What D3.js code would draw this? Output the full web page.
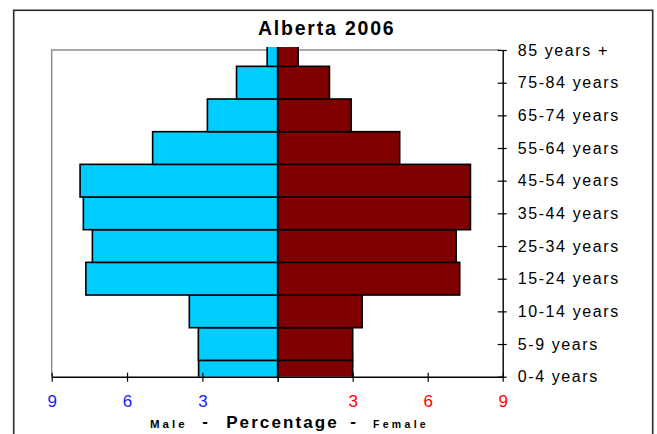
<!DOCTYPE html>
<html>
<head>
<meta charset="utf-8">
<script src="https://cdn.jsdelivr.net/npm/d3@7"></script>
<style>
  html, body { margin: 0; padding: 0; background: #fff; }
  svg { display: block; font-family: "Liberation Sans", Arial, sans-serif; }
</style>
</head>
<body>
<svg id="chart" width="657" height="434"></svg>
<script>
// ---- data ----
const categories = ["0-4 years", "5-9 years", "10-14 years", "15-24 years", "25-34 years",
                    "35-44 years", "45-54 years", "55-64 years", "65-74 years", "75-84 years", "85 years +"];
const maleValues   = [3.15, 3.16, 3.52, 7.64, 7.38, 7.74, 7.87, 4.98, 2.80, 1.64, 0.42];
const femaleValues = [3.00, 3.00, 3.38, 7.28, 7.14, 7.71, 7.71, 4.88, 2.94, 2.07, 0.82];
const xTickValues = [0, 3, 6, 9];
const title = "Alberta 2006";

// ---- layout ----
const W = 657, H = 434;
const plot = { left: 51.7, right: 502.7, top: 50, bottom: 376.7 };
const center = 277.7;

const svg = d3.select("#chart");

// outer frame
svg.append("rect")
  .attr("x", 13.7).attr("y", 10.3)
  .attr("width", 652.7 - 13.7).attr("height", 460)
  .attr("fill", "none").attr("stroke", "#2b2b2b").attr("stroke-width", 1.6);

// scales
const xMale = d3.scaleLinear().domain([0, 9]).range([center, plot.left]);
const xFemale = d3.scaleLinear().domain([0, 9]).range([center, plot.right]);
const y = d3.scalePoint().domain(categories).range([plot.bottom, plot.top]);
const step = y.step();

// plot area frame (gray top & left)
svg.append("path")
  .attr("d", `M${plot.left},${plot.bottom}V${plot.top}H${plot.right - 2}`)
  .attr("fill", "none").attr("stroke", "#8c8c8c").attr("stroke-width", 1.4);

// clip
svg.append("defs").append("clipPath").attr("id", "clip")
  .append("rect")
  .attr("x", plot.left).attr("y", plot.top - 3)
  .attr("width", plot.right - plot.left).attr("height", plot.bottom - plot.top + 3);

const bars = svg.append("g").attr("clip-path", "url(#clip)");

bars.selectAll("rect.male")
  .data(categories.map((c, i) => ({ c, v: maleValues[i] })))
  .join("rect").attr("class", "male")
  .attr("x", d => xMale(d.v))
  .attr("y", d => y(d.c) - step / 2)
  .attr("width", d => xMale(0) - xMale(d.v))
  .attr("height", step)
  .attr("fill", "#00ccff").attr("stroke", "#000").attr("stroke-width", 1.6);

bars.selectAll("rect.female")
  .data(categories.map((c, i) => ({ c, v: femaleValues[i] })))
  .join("rect").attr("class", "female")
  .attr("x", d => xFemale(0))
  .attr("y", d => y(d.c) - step / 2)
  .attr("width", d => xFemale(d.v) - xFemale(0))
  .attr("height", step)
  .attr("fill", "#800000").attr("stroke", "#000").attr("stroke-width", 1.6);

// bottom axes
function bottomAxis(scale, color) {
  const g = svg.append("g")
    .attr("transform", `translate(0,${plot.bottom})`)
    .call(d3.axisBottom(scale).tickValues(xTickValues).tickSizeOuter(0)
      .tickFormat(d => d === 0 ? "" : d));
  g.select(".domain").attr("stroke", "#000").attr("stroke-width", 1.4);
  g.selectAll(".tick line").attr("y1", -4).attr("y2", 5).attr("stroke", "#000").attr("stroke-width", 1.2);
  g.selectAll(".tick text")
    .attr("y", 30).attr("dy", null)
    .attr("fill", color)
    .style("font-size", "17px")
    .style("font-family", "'Liberation Sans', Arial, sans-serif");
  return g;
}
bottomAxis(xMale, "#1a1aff");
bottomAxis(xFemale, "#ff0000");

// right axis
const ra = svg.append("g")
  .attr("transform", `translate(${plot.right},0)`)
  .call(d3.axisRight(y).tickSize(0).tickSizeOuter(0).tickPadding(15));
ra.select(".domain").attr("stroke", "#000").attr("stroke-width", 1.4);
ra.selectAll(".tick").append("line")
  .attr("x1", -5).attr("x2", 4).attr("stroke", "#000").attr("stroke-width", 1.2);
ra.selectAll(".tick text")
  .attr("fill", "#000")
  .style("font-size", "16px")
  .style("letter-spacing", "1.6px")
  .style("font-family", "'Liberation Sans', Arial, sans-serif");

// title
svg.append("text")
  .attr("x", 326.7).attr("y", 35)
  .attr("text-anchor", "middle")
  .style("font-size", "19.5px").style("font-weight", "bold")
  .style("letter-spacing", "1.8px")
  .text(title);

// x axis title
const xt = svg.append("g").style("font-weight", "bold").attr("fill", "#000");
xt.append("text").attr("x", 150).attr("y", 428.3)
  .style("font-size", "11.5px").style("letter-spacing", "3px").text("Male");
xt.append("text").attr("x", 205).attr("y", 427).attr("text-anchor", "middle")
  .style("font-size", "17px").text("-");
xt.append("text").attr("x", 282.5).attr("y", 428.3).attr("text-anchor", "middle")
  .style("font-size", "17px").style("letter-spacing", "2.1px").text("Percentage");
xt.append("text").attr("x", 353).attr("y", 427).attr("text-anchor", "middle")
  .style("font-size", "17px").text("-");
xt.append("text").attr("x", 373).attr("y", 428.3)
  .style("font-size", "10.5px").style("letter-spacing", "3.3px").text("Female");
</script>
</body>
</html>
